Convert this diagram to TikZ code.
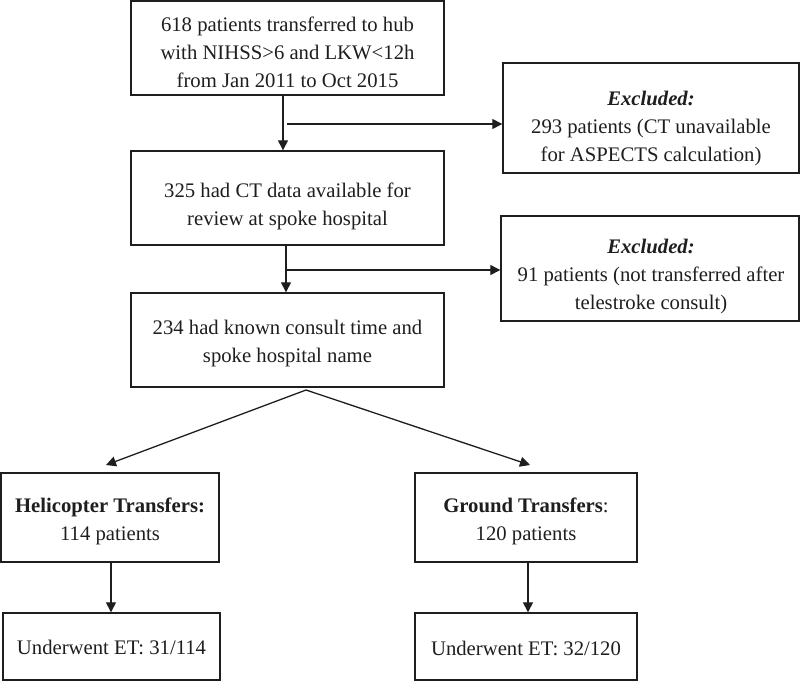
\documentclass[tikz,border=0pt]{standalone}
\usepackage{fontspec}
\setmainfont{Liberation Serif}
\usetikzlibrary{arrows.meta}
\definecolor{ink}{RGB}{30,30,30}
\tikzset{
  box/.style={draw=ink, line width=1.4pt, rectangle, inner sep=0pt},
  txt/.style={text=ink, align=center, inner sep=0pt, font=\fontsize{20.7}{28}\selectfont},
  arr/.style={draw=ink, line width=1.3pt, -{Triangle[length=10pt,width=10pt]}},
  ln/.style={draw=ink, line width=1.3pt}
}
\begin{document}
\begin{tikzpicture}[x=1pt,y=-1pt]
\useasboundingbox (0,0) rectangle (800,681);
% boxes
\node[box, minimum width=313pt, minimum height=94pt] (b1) at (287.5,48) {};
\node[box, minimum width=313pt, minimum height=94pt] (b2) at (287.5,198) {};
\node[box, minimum width=313pt, minimum height=94pt] (b3) at (287.5,340) {};
\node[box, minimum width=296pt, minimum height=110pt] (e1) at (651,118) {};
\node[box, minimum width=298pt, minimum height=105pt] (e2) at (650,268.5) {};
\node[box, minimum width=218pt, minimum height=89pt] (h1) at (110,517.5) {};
\node[box, minimum width=217pt, minimum height=67pt] (h2) at (111.5,646.5) {};
\node[box, minimum width=222pt, minimum height=89pt] (g1) at (526,517.5) {};
\node[box, minimum width=222pt, minimum height=67pt] (g2) at (526,646.5) {};
% texts
\node[txt] (t1) at (287.5,52.3) {618 patients transferred to hub\\with NIHSS>6 and LKW<12h\\from Jan 2011 to Oct 2015};
\node[txt] (t2) at (287.5,206.5) {325 had CT data available for\\review at spoke hospital};
\node[txt] (t3) at (287.5,344) {234 had known consult time and\\spoke hospital name};
\node[txt] (te1) at (651,129) {\textbf{\textit{Excluded:}}\\293 patients (CT unavailable\\for ASPECTS calculation)};
\node[txt] (te2) at (651,277) {\textbf{\textit{Excluded:}}\\91 patients (not transferred after\\telestroke consult)};
\node[txt] (th1) at (110,521.5) {\textbf{Helicopter Transfers:}\\114 patients};
\node[txt] (th2) at (111.5,647) {Underwent ET: 31/114};
\node[txt] (tg1) at (526,521.5) {\textbf{Ground Transfers}:\\120 patients};
\node[txt] (tg2) at (526,648) {Underwent ET: 32/120};
% helper coordinates
\coordinate (v1) at (283,0);
\coordinate (j1) at (287,124);
\coordinate (v2) at (286,0);
\coordinate (j2) at (287,270);
\coordinate (apex) at (306,390);
\coordinate (hl) at (106,465);
\coordinate (gr) at (530,465);
\coordinate (v3) at (111,0);
\coordinate (v4) at (528,0);
% connectors
\draw[arr] (b1.south -| v1) -- (b2.north -| v1);
\draw[arr] (j1) -- (e1.west |- j1);
\draw[arr] (b2.south -| v2) -- (b3.north -| v2);
\draw[arr] (j2) -- (e2.west |- j2);
\draw[arr] (apex) -- (hl);
\draw[arr] (apex) -- (gr);
\draw[arr] (h1.south -| v3) -- (h2.north -| v3);
\draw[arr] (g1.south -| v4) -- (g2.north -| v4);
\end{tikzpicture}
\end{document}
